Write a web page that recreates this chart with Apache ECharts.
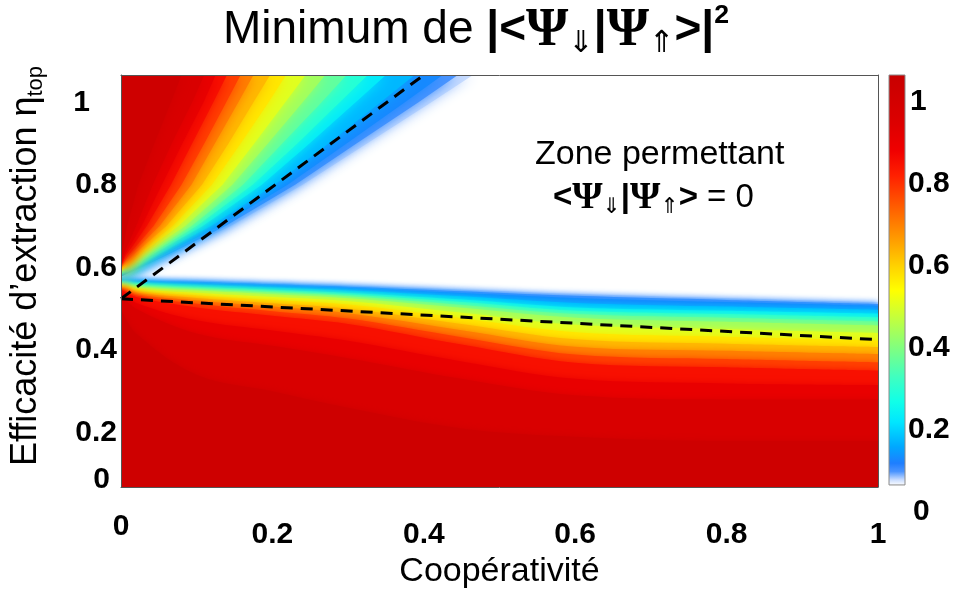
<!DOCTYPE html>
<html><head><meta charset="utf-8">
<script src="https://cdn.jsdelivr.net/npm/echarts@6/dist/echarts.min.js"></script>
<style>html,body{margin:0;padding:0;background:#fff}#c{width:954px;height:594px}</style>
</head><body><div id="c"></div>
<script>
// ---- axis ticks ----
const xTickLabels = ['0', '0.2', '0.4', '0.6', '0.8', '1'];
const yTickValues = [0.085, 0.2, 0.4, 0.6, 0.8, 1];
const yTickLabels = ['0', '0.2', '0.4', '0.6', '0.8', '1'];
const cbTickLabels = ['0', '0.2', '0.4', '0.6', '0.8', '1'];

// ---- contour levels of |<Psi|Psi>|^2 ----
const levels = [0.07, 0.09, 0.11, 0.15, 0.2, 0.26, 0.33, 0.4, 0.47, 0.54, 0.6, 0.66, 0.74, 0.82, 0.88, 0.93, 1.0];

// lower band : y of each contour at these x (filled downward)
const lowerX = [0, 0.02, 0.1, 0.2, 0.3, 0.45, 0.6, 0.8, 1.0];
const lowerY = [
  [0.574, 0.571, 0.568, 0.562, 0.556, 0.546, 0.536, 0.525, 0.515],
  [0.573, 0.569, 0.565, 0.559, 0.553, 0.542, 0.531, 0.521, 0.511],
  [0.572, 0.567, 0.562, 0.556, 0.550, 0.538, 0.526, 0.516, 0.507],
  [0.570, 0.564, 0.558, 0.551, 0.544, 0.530, 0.514, 0.505, 0.497],
  [0.569, 0.561, 0.553, 0.546, 0.538, 0.522, 0.503, 0.495, 0.488],
  [0.567, 0.558, 0.550, 0.543, 0.534, 0.516, 0.495, 0.487, 0.479],
  [0.566, 0.555, 0.547, 0.539, 0.530, 0.509, 0.487, 0.478, 0.469],
  [0.564, 0.552, 0.544, 0.535, 0.525, 0.502, 0.478, 0.468, 0.459],
  [0.561, 0.548, 0.538, 0.528, 0.518, 0.490, 0.461, 0.450, 0.441],
  [0.558, 0.543, 0.532, 0.521, 0.510, 0.477, 0.443, 0.432, 0.423],
  [0.556, 0.539, 0.526, 0.513, 0.500, 0.463, 0.426, 0.415, 0.407],
  [0.553, 0.535, 0.520, 0.505, 0.489, 0.448, 0.408, 0.398, 0.390],
  [0.550, 0.532, 0.512, 0.494, 0.476, 0.431, 0.389, 0.378, 0.370],
  [0.547, 0.528, 0.503, 0.483, 0.463, 0.413, 0.369, 0.358, 0.350],
  [0.541, 0.514, 0.472, 0.447, 0.422, 0.372, 0.330, 0.319, 0.315],
  [0.535, 0.500, 0.440, 0.410, 0.380, 0.330, 0.290, 0.280, 0.280],
  [0.500, 0.440, 0.340, 0.300, 0.260, 0.210, 0.190, 0.180, 0.180]
];

// upper wedge : start y at x=0, then x of each contour at these y (filled upward)
const upperY0 = [0.576, 0.577, 0.578, 0.580, 0.583, 0.585, 0.587, 0.589, 0.591, 0.593, 0.596, 0.598, 0.601, 0.603, 0.605, 0.607, 0.610];
const upperRows = [0.63, 0.7, 0.8, 0.9, 1.0, 1.066];
const upperX = [
  [0.066, 0.145, 0.240, 0.325, 0.410, 0.465],
  [0.061, 0.138, 0.230, 0.311, 0.393, 0.445],
  [0.055, 0.130, 0.220, 0.298, 0.375, 0.425],
  [0.048, 0.119, 0.203, 0.274, 0.343, 0.388],
  [0.040, 0.108, 0.186, 0.249, 0.310, 0.350],
  [0.036, 0.100, 0.174, 0.233, 0.289, 0.326],
  [0.032, 0.093, 0.161, 0.213, 0.265, 0.298],
  [0.028, 0.085, 0.147, 0.194, 0.240, 0.270],
  [0.024, 0.076, 0.134, 0.176, 0.217, 0.244],
  [0.019, 0.068, 0.120, 0.158, 0.195, 0.218],
  [0.016, 0.060, 0.107, 0.142, 0.175, 0.197],
  [0.012, 0.051, 0.093, 0.124, 0.155, 0.175],
  [0.010, 0.043, 0.080, 0.110, 0.139, 0.158],
  [0.007, 0.034, 0.066, 0.094, 0.122, 0.140],
  [0.005, 0.027, 0.054, 0.081, 0.109, 0.125],
  [0.003, 0.020, 0.042, 0.067, 0.094, 0.110],
  [0.001, 0.008, 0.023, 0.044, 0.066, 0.080]
];

// dashed lines
const dash1X = [0, 0.4];
const dash1Y = [0.524, 1.066];
const dash2X = [0, 1];
const dash2Y = [0.524, 0.425];

// colour map (colour bar)
const cbMin = 0.066, cbMax = 1.066;
const cmapValues = [0.066, 0.08, 0.10, 0.12, 0.16, 0.22, 0.27, 0.33, 0.40, 0.47, 0.54, 0.60, 0.66, 0.74, 0.82, 0.88, 0.95, 1.066];
const cmapColors = ['#ffffff', '#c8dcff', '#4a94ff', '#1e7eff', '#00a8ff', '#00e6ff', '#10ffe8', '#40ffc0', '#80ff80', '#c0ff40', '#ffff00', '#ffd200', '#ffa000', '#ff6000', '#ff2000', '#f00000', '#dc0000', '#c80000'];

function hexToRgb(h) { return [parseInt(h.substr(1, 2), 16), parseInt(h.substr(3, 2), 16), parseInt(h.substr(5, 2), 16)]; }
function cmap(v) {
  if (v <= cmapValues[0]) return cmapColors[0];
  for (let i = 1; i < cmapValues.length; i++) {
    if (v <= cmapValues[i]) {
      const t = (v - cmapValues[i - 1]) / (cmapValues[i] - cmapValues[i - 1]);
      const a = hexToRgb(cmapColors[i - 1]), b = hexToRgb(cmapColors[i]);
      return 'rgb(' + a.map((c, k) => Math.round(c + (b[k] - c) * t)).join(',') + ')';
    }
  }
  return cmapColors[cmapColors.length - 1];
}
function bandColor(k) {
  const hi = k + 1 < levels.length ? levels[k + 1] : cbMax;
  return cmap((levels[k] + hi) / 2);
}

const FONT = 'Liberation Sans, Arial, sans-serif';
const SERIF = 'Liberation Serif, Times New Roman, serif';
const series = [];

levels.forEach((L, k) => {
  const c = bandColor(k);
  series.push({
    type: 'line', xAxisIndex: 0, yAxisIndex: 0, silent: true, z: 2,
    symbol: 'none', showSymbol: false, smooth: 0.35,
    lineStyle: { width: 0, opacity: 0 },
    areaStyle: { color: c, opacity: 1, origin: 'start', shadowBlur: 7, shadowColor: c },
    data: lowerX.map((x, i) => [x, lowerY[k][i]])
  });
});
levels.forEach((L, k) => {
  const c = bandColor(k);
  series.push({
    type: 'line', xAxisIndex: 0, yAxisIndex: 0, silent: true, z: 2,
    symbol: 'none', showSymbol: false, smooth: false,
    lineStyle: { width: 0, opacity: 0 },
    areaStyle: { color: c, opacity: 1, origin: 'end', shadowBlur: 14, shadowColor: c },
    data: [[0, upperY0[k]]].concat(upperRows.map((y, i) => [upperX[k][i], y]))
  });
});
series.push({
  type: 'line', xAxisIndex: 0, yAxisIndex: 0, silent: true, z: 4, symbol: 'none',
  lineStyle: { color: '#000', width: 3, type: [12, 8] },
  data: dash1X.map((x, i) => [x, dash1Y[i]])
});
series.push({
  type: 'line', xAxisIndex: 0, yAxisIndex: 0, silent: true, z: 4, symbol: 'none',
  lineStyle: { color: '#000', width: 3, type: [12, 8] },
  data: dash2X.map((x, i) => [x, dash2Y[i]])
});
// colour bar
series.push({
  type: 'custom', xAxisIndex: 2, yAxisIndex: 2, silent: true, z: 3,
  data: [[0, cbMin, 1, cbMax]],
  renderItem: function (params, api) {
    const p0 = api.coord([api.value(0), api.value(1)]);
    const p1 = api.coord([api.value(2), api.value(3)]);
    const stops = cmapValues.map((v, i) => ({ offset: (v - cbMin) / (cbMax - cbMin), color: cmapColors[i] }));
    return {
      type: 'rect',
      shape: { x: p0[0], y: p1[1], width: p1[0] - p0[0], height: p0[1] - p1[1] },
      style: { fill: new echarts.graphic.LinearGradient(0, 1, 0, 0, stops), stroke: '#8a8a8a', lineWidth: 1 }
    };
  }
});

const tickFont = { fontFamily: FONT, fontSize: 30, fontWeight: 'bold', color: '#000' };
const psiRich = function (base) {
  return {
    n: { fontFamily: FONT, fontSize: base, fontWeight: 'normal', color: '#000', verticalAlign: 'middle', lineHeight: base * 1.25 },
    b: { fontFamily: FONT, fontSize: base, fontWeight: 'bold', color: '#000', verticalAlign: 'middle', lineHeight: base * 1.25 },
    p: { fontFamily: SERIF, fontSize: base * 1.18, fontWeight: 'bold', color: '#000', verticalAlign: 'middle', lineHeight: base * 1.25 },
    s: { fontFamily: 'DejaVu Sans', fontSize: base * 0.66, fontWeight: 'normal', color: '#000', verticalAlign: 'bottom', lineHeight: base * 0.64 },
    sup: { fontFamily: FONT, fontSize: base * 0.58, fontWeight: 'bold', color: '#000', verticalAlign: 'top', lineHeight: base * 0.62 }
  };
};

const option = {
  animation: false,
  backgroundColor: '#fff',
  title: [
    { text: '{n|Minimum de }{b||<}{p|Ψ}{s|⇓}{b||}{p|Ψ}{s|⇑}{b|>|}{sup|2}', left: 223, top: 2, padding: 0,
      textStyle: { fontWeight: 'normal', rich: psiRich(46) } },
    { text: 'Zone permettant', left: 535, top: 138, padding: 0,
      textStyle: { fontFamily: FONT, fontSize: 34, fontWeight: 'normal', color: '#000' } },
    { text: '{b|<}{p|Ψ}{s|⇓}{b||}{p|Ψ}{s|⇑}{b|>}{n| = 0}', left: 553, top: 177, padding: 0,
      textStyle: { fontWeight: 'normal', rich: psiRich(33) } }
  ],
  grid: [
    { left: 121, right: 76, top: 75, bottom: 107 },
    { left: 889, right: 49, top: 75, bottom: 82 }
  ],
  xAxis: [
    { type: 'value', gridIndex: 0, min: 0, max: 1, interval: 0.2, position: 'bottom', z: 10,
      axisLine: { show: true, onZero: false, lineStyle: { color: '#555', width: 1 } },
      axisTick: { show: false }, splitLine: { show: false },
      axisLabel: Object.assign({ margin: 33, formatter: function (v) {
        const s = xTickLabels[Math.round(v / 0.2)];
        return s === '0' ? '{z|0}' : s;
      }, rich: { z: Object.assign({ lineHeight: 14 }, tickFont) } }, tickFont),
      name: 'Coopérativité', nameLocation: 'middle', nameGap: 64,
      nameTextStyle: { fontFamily: FONT, fontSize: 34, color: '#000' } },
    { type: 'value', gridIndex: 0, min: 0, max: 1, position: 'top', z: 10,
      axisLine: { show: true, onZero: false, lineStyle: { color: '#555', width: 1 } },
      axisTick: { show: false }, axisLabel: { show: false }, splitLine: { show: false } },
    { type: 'value', gridIndex: 1, min: 0, max: 1, show: false }
  ],
  yAxis: [
    { type: 'value', gridIndex: 0, min: 0.068, max: 1.066, position: 'left', z: 10,
      axisLine: { show: true, onZero: false, lineStyle: { color: '#555', width: 1 } },
      axisTick: { show: false }, splitLine: { show: false },
      axisLabel: Object.assign({ margin: 4, customValues: yTickValues, showMinLabel: true, showMaxLabel: true,
        formatter: function (v) {
          let i = 0, d = 1e9;
          yTickValues.forEach((t, j) => { if (Math.abs(t - v) < d) { d = Math.abs(t - v); i = j; } });
          const s = yTickLabels[i];
          if (s === '1') return '{one|1}';
          if (s === '0') return '{zero|0}';
          return s;
        },
        rich: { one: Object.assign({ padding: [0, 27, 0, 0] }, tickFont), zero: Object.assign({ padding: [0, 7, 0, 0] }, tickFont) }
      }, tickFont) },
    { type: 'value', gridIndex: 0, min: 0.068, max: 1.066, position: 'right', z: 10,
      axisLine: { show: true, onZero: false, lineStyle: { color: '#555', width: 1 } },
      axisTick: { show: false }, axisLabel: { show: false }, splitLine: { show: false } },
    { type: 'value', gridIndex: 1, min: 0, max: 1.066, interval: 0.2, position: 'right',
      axisLine: { show: false }, axisTick: { show: false }, splitLine: { show: false },
      axisLabel: Object.assign({ margin: 3, align: 'left', showMaxLabel: false,
        formatter: function (v) {
          const s = cbTickLabels[Math.round(v / 0.2)];
          if (s === '0') return '{zero|0}';
          if (s === '1') return '{one|1}';
          return s;
        },
        rich: { zero: Object.assign({ padding: [0, 0, 0, 5] }, tickFont), one: Object.assign({ padding: [0, 0, 0, 2] }, tickFont) }
      }, tickFont) }
  ],
  graphic: [
    { type: 'text', x: 26, y: 266, rotation: Math.PI / 2, silent: true,
      style: {
        text: '{a|Efficacité d’extraction η}{s|top}',
        align: 'center', verticalAlign: 'middle',
        rich: {
          a: { fontFamily: FONT, fontSize: 36, fill: '#000', color: '#000', verticalAlign: 'middle', lineHeight: 42 },
          s: { fontFamily: FONT, fontSize: 22, fill: '#000', color: '#000', verticalAlign: 'bottom', lineHeight: 21 }
        }
      } }
  ],
  series: series
};

const chart = echarts.init(document.getElementById('c'), null, { renderer: 'canvas' });
chart.setOption(option);
</script>
</body></html>
